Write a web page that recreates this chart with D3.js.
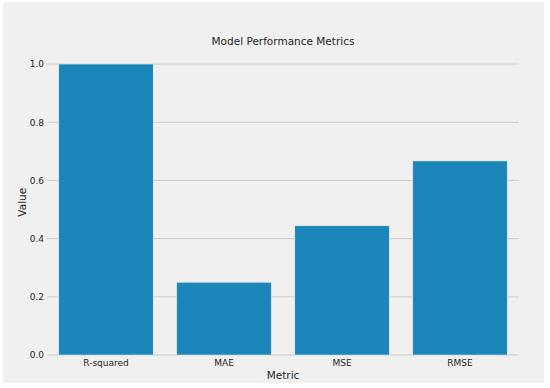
<!DOCTYPE html>
<html>
<head>
<meta charset="utf-8">
<script src="https://cdn.jsdelivr.net/npm/d3@7"></script>
<style>
  body { margin: 0; background: #ffffff; }
  text { font-family: "DejaVu Sans", sans-serif; }
</style>
</head>
<body>
<div id="chart"></div>
<script>
// Chart data
const metrics = ["R-squared", "MAE", "MSE", "RMSE"];
const values = [1.0, 0.25, 0.444, 0.667];
const yTicks = [0, 0.2, 0.4, 0.6, 0.8, 1.0];

const W = 550, H = 388;
const margin = { top: 49.5, right: 31, bottom: 33, left: 47 };
const width = W - margin.left - margin.right;
const height = H - margin.top - margin.bottom;

const svg = d3.select("#chart")
  .append("svg")
  .attr("width", W)
  .attr("height", H);

// Figure background with a thin white frame
svg.append("rect")
  .attr("x", 3).attr("y", 2)
  .attr("width", 541).attr("height", 381)
  .attr("fill", "#f0f0f0");

const g = svg.append("g")
  .attr("transform", `translate(${margin.left},${margin.top})`);

const x = d3.scaleBand().domain(metrics).range([0, width]).paddingInner(0.2).paddingOuter(0.1);
const y = d3.scaleLinear().domain([0, 1.05]).range([height, 0]);

// Horizontal gridlines
g.selectAll(".grid")
  .data(yTicks)
  .join("line")
  .attr("x1", 0)
  .attr("x2", width)
  .attr("y1", d => y(d))
  .attr("y2", d => y(d))
  .attr("stroke", "#cbcbcb")
  .attr("stroke-width", 1);

// Bars
g.selectAll(".bar")
  .data(values)
  .join("rect")
  .attr("x", (d, i) => x(metrics[i]))
  .attr("y", d => y(d))
  .attr("width", x.bandwidth())
  .attr("height", d => y(0) - y(d))
  .attr("fill", "#1b86ba")
  .attr("stroke", "#f0f0f0")
  .attr("stroke-width", 0.5);

// Y axis
g.append("g")
  .call(d3.axisLeft(y).tickValues(yTicks).tickFormat(d3.format(".1f")).tickSize(0).tickPadding(3))
  .call(a => a.select(".domain").remove())
  .selectAll("text")
  .style("font-size", "9px")
  .style("font-family", "DejaVu Sans")
  .attr("fill", "#262626");

// X axis
g.append("g")
  .attr("transform", `translate(0,${height})`)
  .call(d3.axisBottom(x).tickSize(0).tickPadding(5))
  .call(a => a.select(".domain").remove())
  .selectAll("text")
  .style("font-size", "9px")
  .style("font-family", "DejaVu Sans")
  .attr("fill", "#262626");

// Title and axis labels
g.append("text")
  .attr("x", width / 2)
  .attr("y", -4.5)
  .attr("text-anchor", "middle")
  .style("font-size", "10.5px")
  .attr("fill", "#262626")
  .text("Model Performance Metrics");

g.append("text")
  .attr("x", width / 2)
  .attr("y", height + 24)
  .attr("text-anchor", "middle")
  .style("font-size", "10.5px")
  .attr("fill", "#262626")
  .text("Metric");

svg.append("text")
  .attr("transform", `translate(26,${margin.top + height / 2}) rotate(-90)`)
  .attr("text-anchor", "middle")
  .style("font-size", "10.5px")
  .attr("fill", "#262626")
  .text("Value");
</script>
</body>
</html>
